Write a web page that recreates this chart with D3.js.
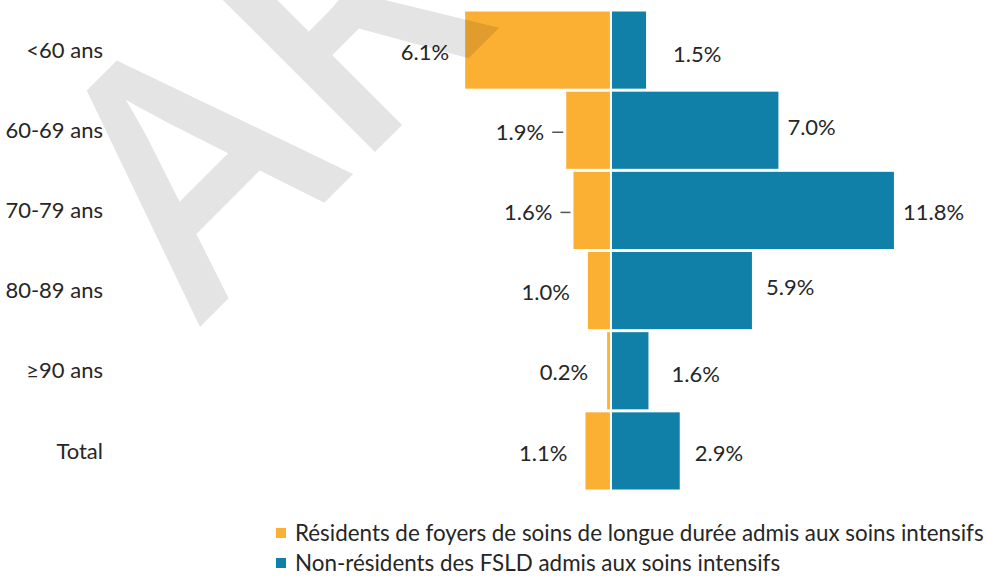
<!DOCTYPE html>
<html>
<head>
  <meta charset="utf-8">
  <title>Admissions aux soins intensifs par groupe d'âge</title>
  <script src="https://d3js.org/d3.v7.min.js"></script>
  <style>
    body { margin: 0; background: #fff; }
    svg text { font-family: Lato, "Open Sans", sans-serif; fill: #262626; }
  </style>
</head>
<body>
  <svg id="chart" width="986" height="576"></svg>

  <script>
    // data (percent)
    const categories = ["<60 ans", "60-69 ans", "70-79 ans", "80-89 ans", "\u226590 ans", "Total"];
    const residents = [6.1, 1.9, 1.6, 1.0, 0.2, 1.1];
    const nonResidents = [1.5, 7.0, 11.8, 5.9, 1.6, 2.9];
    const seriesNames = [
      "R\u00e9sidents de foyers de soins de longue dur\u00e9e admis aux soins intensifs",
      "Non-r\u00e9sidents des FSLD admis aux soins intensifs"
    ];
    const colors = ["#fbb034", "#1180a8"];

    // label placement tweaks (gap from bar end, vertical nudge), as in the original
    const leftGap = [15, 21, 20, 17, 18, 17];
    const rightGap = [26, 8, 8, 13, 22, 14];
    const rightDy = [4, -3, 2, -3, 4, 2];
    const leader = [false, true, true, false, false, false];

    const svg = d3.select("#chart");
    const fs = 22;

    const x = d3.scaleLinear().domain([-7, 13]).range([610.5 - 7 * 24, 610.5 + 13 * 24.1]);
    const y = d3.scaleBand().domain(categories).range([10.5, 490.5]).paddingInner(0.0125);

    // bars
    svg.append("g").selectAll("rect")
      .data(residents)
      .join("rect")
      .attr("x", d => x(-d))
      .attr("y", (d, i) => y(categories[i]))
      .attr("width", d => x(0) - x(-d))
      .attr("height", y.bandwidth())
      .attr("fill", colors[0])
      .attr("stroke", "#fff")
      .attr("stroke-width", 2);

    svg.append("g").selectAll("rect")
      .data(nonResidents)
      .join("rect")
      .attr("x", x(0))
      .attr("y", (d, i) => y(categories[i]))
      .attr("width", d => x(d) - x(0))
      .attr("height", y.bandwidth())
      .attr("fill", colors[1])
      .attr("stroke", "#fff")
      .attr("stroke-width", 2);

    // category labels
    svg.append("g").selectAll("text")
      .data(categories)
      .join("text")
      .attr("x", 103)
      .attr("y", d => y(d) + y.bandwidth() / 2)
      .attr("dy", "0.35em")
      .attr("text-anchor", "end")
      .attr("font-size", fs)
      .text(d => d);

    // value labels
    const fmt = d => d.toFixed(1) + "%";
    svg.append("g").selectAll("text")
      .data(residents)
      .join("text")
      .attr("x", (d, i) => x(-d) - leftGap[i])
      .attr("y", (d, i) => y(categories[i]) + y.bandwidth() / 2 + 2)
      .attr("dy", "0.35em")
      .attr("text-anchor", "end")
      .attr("font-size", fs)
      .text(fmt);

    // short leader lines for the two offset labels
    svg.append("g").selectAll("line")
      .data(residents.map((d, i) => i).filter(i => leader[i]))
      .join("line")
      .attr("x1", i => x(-residents[i]) - leftGap[i] + 8)
      .attr("x2", i => x(-residents[i]) - 2)
      .attr("y1", i => y(categories[i]) + y.bandwidth() / 2 + 2)
      .attr("y2", i => y(categories[i]) + y.bandwidth() / 2 + 2)
      .attr("stroke", "#555")
      .attr("stroke-width", 1.5);

    svg.append("g").selectAll("text")
      .data(nonResidents)
      .join("text")
      .attr("x", (d, i) => x(d) + rightGap[i])
      .attr("y", (d, i) => y(categories[i]) + y.bandwidth() / 2 + rightDy[i])
      .attr("dy", "0.35em")
      .attr("font-size", fs)
      .text(fmt);

    // legend
    const legend = svg.append("g").selectAll("g")
      .data(seriesNames)
      .join("g")
      .attr("transform", (d, i) => `translate(276,${528 + i * 30})`);
    legend.append("rect")
      .attr("width", 10).attr("height", 10)
      .attr("fill", (d, i) => colors[i]);
    legend.append("text")
      .attr("x", 19).attr("y", 5).attr("dy", "0.35em")
      .attr("font-size", 22.4)
      .text(d => d);

    // archive watermark
    svg.append("text")
      .attr("transform", "translate(200,327) rotate(-45) scale(0.95,1)")
      .attr("font-size", 345)
      .attr("font-weight", 600)
      .style("font-family", "'Open Sans', sans-serif")
      .style("fill", "#000")
      .style("fill-opacity", 0.105)
      .text("ARCHIV\u00c9");
  </script>
</body>
</html>
